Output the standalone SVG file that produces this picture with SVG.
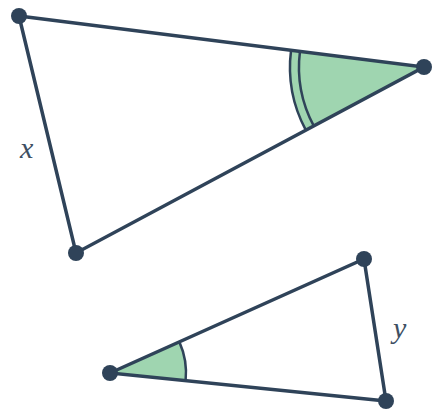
<svg xmlns="http://www.w3.org/2000/svg" width="433" height="414" viewBox="0 0 433 414">
<style>
.edge{stroke:#2f4359;stroke-width:3.5;fill:none;stroke-linecap:round}
.fill{fill:#9fd5b0;stroke:none}
.arc{stroke:#2f4359;stroke-width:2.5;fill:none}
.pt{fill:#2f4359}
.lbl{font-family:"Liberation Serif",serif;font-style:italic;font-size:30px;fill:#3e5063}
</style>
<rect width="433" height="414" fill="#ffffff"/>
<g id="angles">
<path class="fill" d="M424,67 L291.05,50.26 A134,134 0 0 0 305.83,130.17 Z"/>
<path class="arc" d="M291.05,50.26 A134,134 0 0 0 305.83,130.17"/>
<path class="arc" d="M299.97,51.39 A125,125 0 0 0 313.76,125.93"/>
<path class="fill" d="M110,373 L179.34,341.88 A76,76 0 0 1 185.62,380.67 Z"/>
<path class="arc" d="M179.34,341.88 A76,76 0 0 1 185.62,380.67"/>
</g>
<g id="connectors">
<path class="edge" d="M19,16 L424,67 L76,253 Z"/>
<path class="edge" d="M110,373 L364,259 L386,401 Z"/>
</g>
<g id="node-A"><circle class="pt" cx="19" cy="16" r="8"/></g>
<g id="node-B"><circle class="pt" cx="424" cy="67" r="8"/></g>
<g id="node-C"><circle class="pt" cx="76" cy="253" r="8"/></g>
<g id="node-D"><circle class="pt" cx="110" cy="373" r="8"/></g>
<g id="node-E"><circle class="pt" cx="364" cy="259" r="8"/></g>
<g id="node-F"><circle class="pt" cx="386" cy="401" r="8"/></g>
<g id="labels">
<text class="lbl" x="20" y="158">x</text>
<text class="lbl" x="393" y="338">y</text>
</g>
</svg>
